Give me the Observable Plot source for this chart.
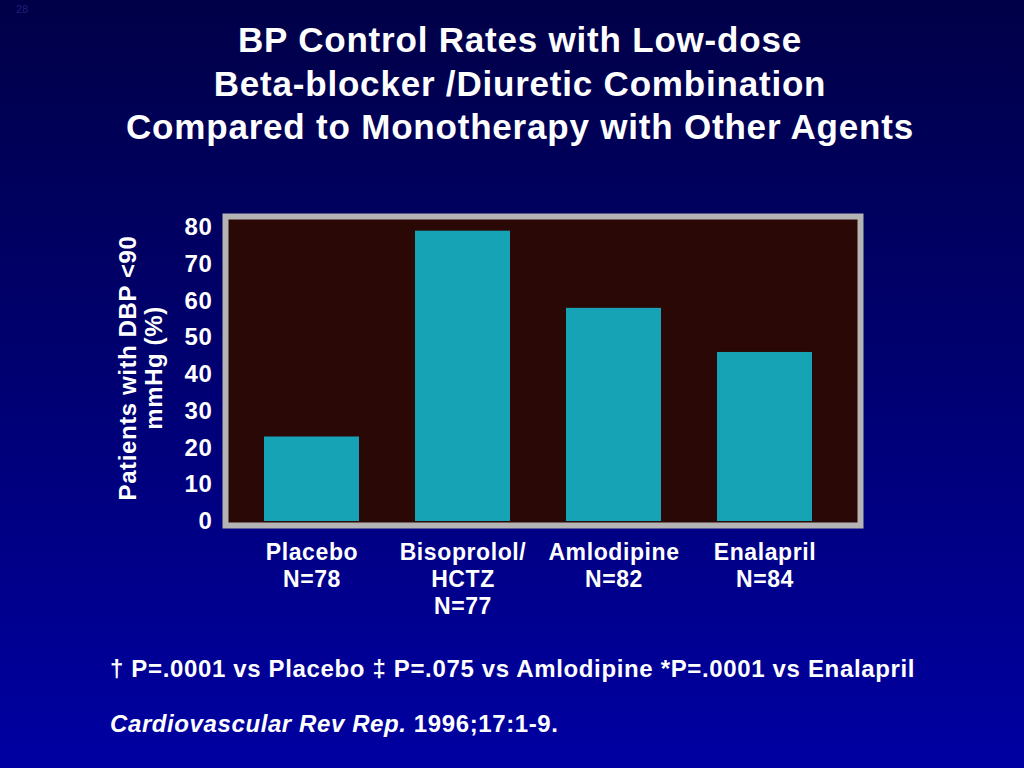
<!DOCTYPE html>
<html>
<head>
<meta charset="utf-8">
<script src="https://cdn.jsdelivr.net/npm/d3@7"></script>
<script src="https://cdn.jsdelivr.net/npm/@observablehq/plot@0.6"></script>
<style>
  html, body { margin: 0; padding: 0; }
  body {
    width: 1024px; height: 768px; overflow: hidden;
    background: linear-gradient(to bottom, #000048 0%, #00006e 45%, #0000a2 100%);
    font-family: "Liberation Sans", Arial, Helvetica, sans-serif;
    color: #fff;
    position: relative;
  }
  #slide-no { position: absolute; left: 16px; top: 3px; font-size: 11px; color: rgba(70,70,190,0.45); }
  #title {
    position: absolute; left: 0; top: 18px; width: 1040px; text-align: center;
    font-weight: bold; font-size: 35px; line-height: 43.5px; letter-spacing: 0.8px;
  }
  #chart { position: absolute; left: 0; top: 190px; }
  #notes {
    position: absolute; left: 110px; top: 655px; font-weight: bold; font-size: 24px; letter-spacing: 0.65px; white-space: nowrap;
  }
  #cite {
    position: absolute; left: 110px; top: 710px; font-size: 24px; font-weight: bold; letter-spacing: 0.6px; white-space: nowrap;
  }
</style>
</head>
<body>
<div id="slide-no">28</div>
<div id="title">BP Control Rates with Low-dose<br>Beta-blocker /Diuretic Combination<br>Compared to Monotherapy with Other Agents</div>
<div id="chart"></div>
<div id="notes">† P=.0001 vs Placebo ‡ P=.075 vs Amlodipine *P=.0001 vs Enalapril</div>
<div id="cite"><i>Cardiovascular Rev Rep.</i> 1996;17:1-9.</div>
<script>
const categories = ["Placebo", "Bisoprolol/HCTZ", "Amlodipine", "Enalapril"];
const tickLabels = ["Placebo\nN=78", "Bisoprolol/\nHCTZ\nN=77", "Amlodipine\nN=82", "Enalapril\nN=84"];
const values = [23, 79, 58, 46];
const yTicks = [0, 10, 20, 30, 40, 50, 60, 70, 80];
const yLabel = "Patients with DBP <90\nmmHg (%)";

const data = categories.map((c, i) => ({category: c, value: values[i]}));
const labelOf = new Map(categories.map((c, i) => [c, tickLabels[i]]));

const chart = Plot.plot({
  width: 1024,
  height: 440,
  marginLeft: 225,
  marginRight: 164,
  marginTop: 26,
  marginBottom: 105,
  style: {background: "transparent", color: "#fff", fontFamily: "'Liberation Sans', Arial, sans-serif", letterSpacing: "0.6px", overflow: "visible"},
  x: {domain: categories, paddingInner: 0.373, paddingOuter: 0.282, align: 0.444, axis: null},
  y: {domain: [0, 80], range: [331, 37], axis: null},
  marks: [
    Plot.frame({fill: "#2a0805", stroke: "#b4b4b4", strokeWidth: 6}),
    Plot.barY(data, {x: "category", y: "value", fill: "#17a3b6"}),
    Plot.axisY({ticks: yTicks, label: null, tickSize: 0, tickPadding: 13, fontSize: 24, fontWeight: "bold", fill: "#fff"}),
    Plot.axisX({label: null, tickSize: 0, tickPadding: 15, tickFormat: d => labelOf.get(d), fontSize: 23, fontWeight: "bold", lineHeight: 1.18, fill: "#fff"}),
    Plot.text([yLabel], {frameAnchor: "left", dx: -85, dy: -3, rotate: -90, textAnchor: "middle", lineAnchor: "middle", fontSize: 24, fontWeight: "bold", fill: "#fff", lineHeight: 1.1})
  ]
});
document.getElementById("chart").appendChild(chart);
</script>
</body>
</html>
